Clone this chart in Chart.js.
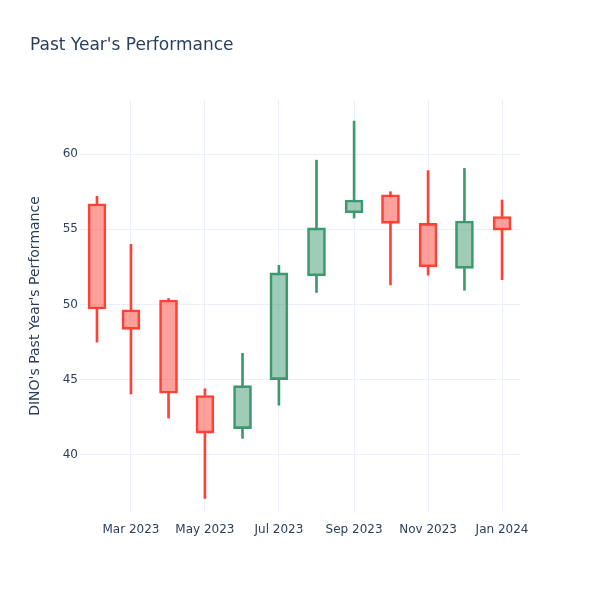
<!DOCTYPE html>
<html>
<head>
<meta charset="utf-8">
<script src="https://cdn.jsdelivr.net/npm/chart.js@4/dist/chart.umd.min.js"></script>
<style>
  html, body { margin: 0; padding: 0; background: #fff; }
  #wrap { width: 600px; height: 600px; }
</style>
</head>
<body>
<div id="wrap"><canvas id="chart" width="600" height="600"></canvas></div>
<script>
// --- DATA (monthly candles) ---
const months = ['2023-02-01', '2023-03-01', '2023-04-01', '2023-05-01', '2023-06-01', '2023-07-01',
                '2023-08-01', '2023-09-01', '2023-10-01', '2023-11-01', '2023-12-01', '2024-01-01'];
const openVals  = [56.7, 49.65, 50.3, 43.95, 41.75, 45.0, 51.9, 56.1, 57.3, 55.4, 52.4, 55.85];
const highVals  = [57.2, 54.0, 50.4, 44.4, 46.75, 52.6, 59.6, 62.2, 57.5, 58.9, 59.05, 56.95];
const lowVals   = [47.5, 44.05, 42.45, 37.1, 41.1, 43.3, 50.8, 55.75, 51.3, 51.95, 50.95, 51.65];
const closeVals = [49.7, 48.35, 44.1, 41.45, 44.6, 52.1, 55.1, 56.95, 55.4, 52.5, 55.55, 54.95];

const tickDates  = ['2023-03-01', '2023-05-01', '2023-07-01', '2023-09-01', '2023-11-01', '2024-01-01'];
const tickLabels = ['Mar 2023', 'May 2023', 'Jul 2023', 'Sep 2023', 'Nov 2023', 'Jan 2024'];
const yTicks = [40, 45, 50, 55, 60];

// --- HELPERS ---
const toTime = s => Date.parse(s + 'T00:00:00Z');
const DAY = 86400000;
const INC_LINE = '#3D9970', INC_FILL = 'rgba(61,153,112,0.5)';
const DEC_LINE = '#FF4136', DEC_FILL = 'rgba(255,65,54,0.5)';
const TEXT = '#2a3f5f';
const GRID = '#EBF0F8';
const FONT = 'DejaVu Sans, Open Sans, sans-serif';

const isUp = i => closeVals[i] >= openVals[i];
const lineColor = ctx => isUp(ctx.dataIndex) ? INC_LINE : DEC_LINE;
const fillColor = ctx => isUp(ctx.dataIndex) ? INC_FILL : DEC_FILL;

const bodies = months.map((m, i) => ({ x: toTime(m), y: [openVals[i], closeVals[i]] }));
const upperWicks = months.map((m, i) => ({ x: toTime(m), y: [Math.max(openVals[i], closeVals[i]), highVals[i]] }));
const lowerWicks = months.map((m, i) => ({ x: toTime(m), y: [lowVals[i], Math.min(openVals[i], closeVals[i])] }));

const tickTimes = tickDates.map(toTime);

new Chart(document.getElementById('chart'), {
    type: 'bar',
    data: {
        datasets: [
            {
                label: 'body',
                data: bodies,
                backgroundColor: fillColor,
                borderColor: lineColor,
                borderWidth: 2,
                borderSkipped: false,
                barThickness: 18,
                grouped: false,
                order: 0
            },
            {
                label: 'upper wick',
                data: upperWicks,
                backgroundColor: lineColor,
                borderWidth: 0,
                barThickness: 2,
                grouped: false,
                order: 1
            },
            {
                label: 'lower wick',
                data: lowerWicks,
                backgroundColor: lineColor,
                borderWidth: 0,
                barThickness: 2,
                grouped: false,
                order: 1
            }
        ]
    },
    options: {
        responsive: false,
        animation: false,
        layout: { padding: { left: 30, right: 80, top: 0, bottom: 0 } },
        plugins: {
            legend: { display: false },
            tooltip: { enabled: false },
            title: {
                display: true,
                text: "Past Year's Performance",
                align: 'start',
                color: TEXT,
                font: { family: FONT, size: 17, weight: 'normal', lineHeight: 1.2 },
                padding: { top: 35, bottom: 44.6 }
            }
        },
        scales: {
            x: {
                type: 'linear',
                offset: false,
                min: toTime('2023-01-18'),
                max: toTime('2023-01-18') + 362.8 * DAY,
                grid: { color: GRID, lineWidth: 1, drawTicks: false, offset: false },
                border: { display: false },
                ticks: {
                    color: TEXT,
                    font: { family: FONT, size: 12 },
                    padding: 11,
                    maxRotation: 0,
                    autoSkip: false,
                    callback: (v) => {
                        const k = tickTimes.indexOf(v);
                        return k >= 0 ? tickLabels[k] : '';
                    }
                },
                afterBuildTicks: (scale) => { scale.ticks = tickTimes.map(v => ({ value: v })); },
                afterFit: (scale) => { scale.height = 88; }
            },
            y: {
                min: 36.2,
                max: 63.6,
                grid: { color: GRID, lineWidth: 1, drawTicks: false },
                border: { display: false },
                ticks: {
                    color: TEXT,
                    font: { family: FONT, size: 12 },
                    padding: 2
                },
                afterBuildTicks: (scale) => { scale.ticks = yTicks.map(v => ({ value: v })); },
                afterFit: (scale) => { scale.width = 50; },
                title: {
                    display: true,
                    text: "DINO's Past Year's Performance",
                    color: TEXT,
                    font: { family: FONT, size: 14, lineHeight: 0.8 },
                    padding: 0
                }
            }
        }
    }
});
</script>
</body>
</html>
